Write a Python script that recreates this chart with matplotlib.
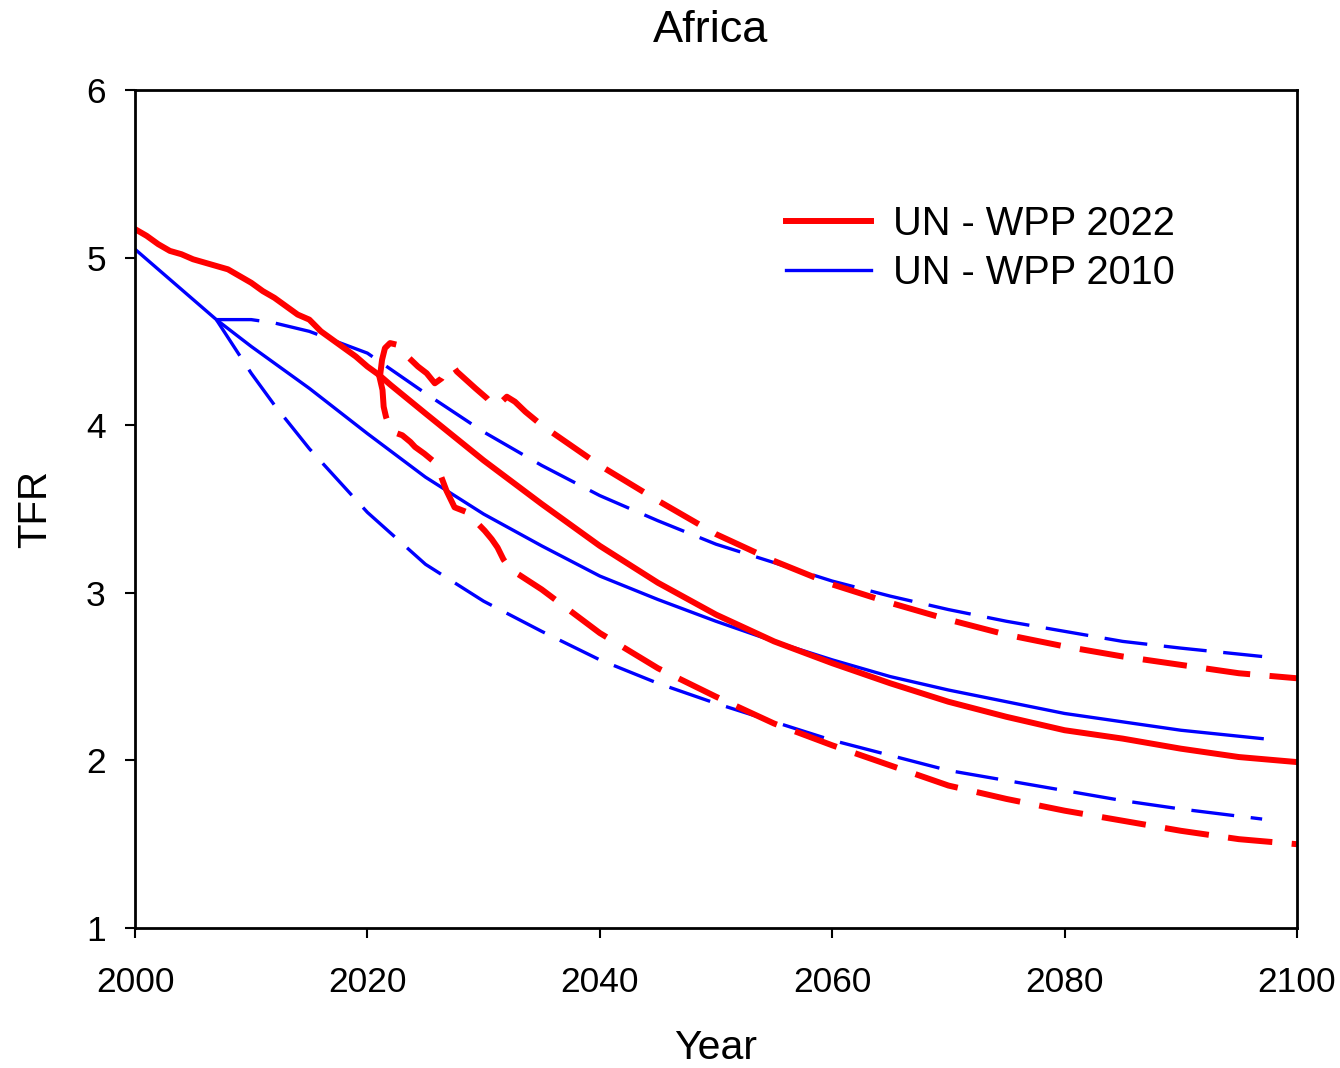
import matplotlib
matplotlib.use("Agg")
import matplotlib.pyplot as plt

plt.rcParams["font.family"] = ["Liberation Sans", "DejaVu Sans"]
plt.rcParams["lines.scale_dashes"] = False

# ---- UN WPP 2022: estimates + medium variant ----
wpp22_years = [2000, 2001, 2002, 2003, 2004, 2005, 2006, 2007, 2008, 2009,
               2010, 2011, 2012, 2013, 2014, 2015, 2016, 2017, 2018, 2019,
               2020, 2021, 2022, 2025, 2030, 2035, 2040, 2045, 2050, 2055,
               2060, 2065, 2070, 2075, 2080, 2085, 2090, 2095, 2100]
wpp22_tfr = [5.17, 5.13, 5.08, 5.04, 5.02, 4.99, 4.97, 4.95, 4.93, 4.89,
             4.85, 4.80, 4.76, 4.71, 4.66, 4.63, 4.56, 4.51, 4.46, 4.41,
             4.35, 4.30, 4.24, 4.07, 3.79, 3.53, 3.28, 3.06, 2.87, 2.71,
             2.58, 2.46, 2.35, 2.26, 2.18, 2.13, 2.07, 2.02, 1.99]

# ---- UN WPP 2022: high variant ----
wpp22_high_years = [2021.0, 2021.08, 2021.26, 2021.51, 2021.95, 2022.55, 2022.81,
                    2023.6, 2024.35, 2025.1, 2025.8, 2026.4, 2026.9, 2027.5,
                    2027.7, 2028.5, 2029.3, 2030.3, 2030.8, 2031.4, 2032.0,
                    2032.7, 2033.6, 2035, 2040, 2045, 2050, 2055, 2060, 2065,
                    2070, 2075, 2080, 2085, 2090, 2095, 2100]
wpp22_high_tfr = [4.30, 4.29, 4.39, 4.46, 4.49, 4.48, 4.45,
                  4.40, 4.35, 4.31, 4.25, 4.28, 4.34, 4.34,
                  4.32, 4.27, 4.22, 4.16, 4.12, 4.13, 4.17,
                  4.14, 4.08, 4.00, 3.76, 3.55, 3.35, 3.19, 3.05, 2.94,
                  2.84, 2.75, 2.68, 2.62, 2.57, 2.52, 2.49]

# ---- UN WPP 2022: low variant ----
wpp22_low_years = [2021.0, 2021.3, 2021.4, 2021.6, 2021.8, 2022.2, 2023.0, 2023.7,
                   2024.1, 2024.9, 2025.6, 2026.2, 2026.8, 2027.5, 2028.6,
                   2029.4, 2030.1, 2030.7, 2031.2, 2031.7, 2032.3, 2033.0,
                   2035, 2040, 2045, 2050, 2055, 2060, 2065, 2070, 2075,
                   2080, 2085, 2090, 2095, 2100]
wpp22_low_tfr = [4.30, 4.21, 4.11, 4.05, 4.01, 3.96, 3.94, 3.90,
                 3.87, 3.83, 3.79, 3.72, 3.61, 3.51, 3.48,
                 3.42, 3.37, 3.32, 3.27, 3.20, 3.14, 3.11,
                 3.02, 2.76, 2.55, 2.38, 2.22, 2.09, 1.97, 1.85, 1.77,
                 1.70, 1.64, 1.58, 1.53, 1.50]

# ---- UN WPP 2010: medium, high and low variants ----
wpp10_years = [2000, 2007, 2010, 2015, 2020, 2025, 2030, 2035, 2040, 2045,
               2050, 2055, 2060, 2065, 2070, 2075, 2080, 2085, 2090, 2097]
wpp10_tfr = [5.05, 4.63, 4.47, 4.22, 3.95, 3.69, 3.47, 3.28, 3.10, 2.96,
             2.83, 2.71, 2.60, 2.50, 2.42, 2.35, 2.28, 2.23, 2.18, 2.13]

wpp10_var_years = [2007, 2010, 2012, 2015, 2020, 2025, 2030, 2035, 2040, 2045,
                   2050, 2055, 2060, 2065, 2070, 2075, 2080, 2085, 2090, 2097]
wpp10_high_tfr = [4.63, 4.63, 4.61, 4.56, 4.43, 4.19, 3.96, 3.76, 3.58, 3.43,
                  3.29, 3.18, 3.07, 2.98, 2.90, 2.83, 2.77, 2.71, 2.67, 2.62]
wpp10_low_tfr = [4.63, 4.31, 4.12, 3.86, 3.48, 3.17, 2.95, 2.77, 2.60, 2.46,
                 2.34, 2.23, 2.12, 2.03, 1.94, 1.88, 1.82, 1.76, 1.71, 1.65]

x_ticks = [2000, 2020, 2040, 2060, 2080, 2100]
y_ticks = [1, 2, 3, 4, 5, 6]

RED = "#ff0000"
BLUE = "#0000ff"

fig = plt.figure(figsize=(13.4, 10.68), dpi=100)
ax = fig.add_axes([135 / 1340, 1 - 928 / 1068, 1162 / 1340, 838 / 1068])

red_dash = (32, 14)
blue_dash = (31, 12)

ax.plot(wpp10_var_years, wpp10_high_tfr, color=BLUE, lw=2.4,
        dashes=blue_dash, dash_capstyle="butt")
ax.plot(wpp10_var_years, wpp10_low_tfr, color=BLUE, lw=2.4,
        dashes=blue_dash, dash_capstyle="butt")
ax.plot(wpp10_years, wpp10_tfr, color=BLUE, lw=2.4, label="UN - WPP 2010")

ax.plot(wpp22_high_years, wpp22_high_tfr, color=RED, lw=4.3,
        dashes=red_dash, dash_capstyle="butt")
ax.plot(wpp22_low_years, wpp22_low_tfr, color=RED, lw=4.3,
        dashes=red_dash, dash_capstyle="butt")
ax.plot(wpp22_years, wpp22_tfr, color=RED, lw=4.3, label="UN - WPP 2022",
        solid_joinstyle="round")

ax.set_xlim(2000, 2100)
ax.set_ylim(1, 6)
ax.set_xticks(x_ticks)
ax.set_yticks(y_ticks)
ax.tick_params(axis="both", direction="out", length=7, width=1.5,
               labelsize=25.5)
ax.tick_params(axis="x", pad=20)
ax.tick_params(axis="y", pad=14)
for sp in ax.spines.values():
    sp.set_linewidth(2)

handles, labels = ax.get_legend_handles_labels()
ax.legend(handles[::-1], labels[::-1], loc="upper left",
          bbox_to_anchor=(786 / 1340, 1 - 205 / 1068),
          bbox_transform=fig.transFigure, frameon=False, fontsize=28.6,
          handlelength=2.15, handletextpad=0.55, labelspacing=0.28,
          borderpad=0, borderaxespad=0)

fig.text(711 / 1340, 1 - 30 / 1068, "Africa", ha="center", va="center",
         fontsize=32.5)
fig.text(716 / 1340, 1 - 1048 / 1068, "Year", ha="center", va="center",
         fontsize=29.5)
fig.text(35 / 1340, 1 - 509 / 1068, "TFR", ha="center", va="center",
         rotation=90, fontsize=29)

fig.savefig("out.png", dpi=100)
